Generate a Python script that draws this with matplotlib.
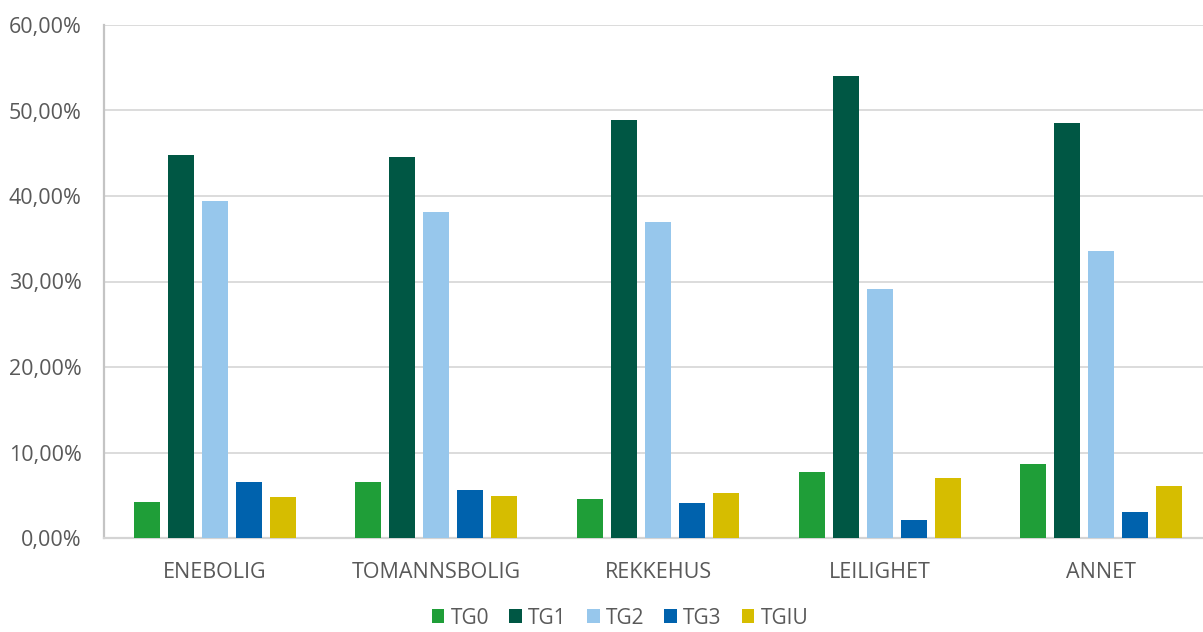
import matplotlib
matplotlib.use("Agg")
import matplotlib.pyplot as plt
import numpy as np
from matplotlib.ticker import FuncFormatter
from matplotlib.patches import Patch

categories = ["ENEBOLIG", "TOMANNSBOLIG", "REKKEHUS", "LEILIGHET", "ANNET"]
series_names = ["TG0", "TG1", "TG2", "TG3", "TGIU"]
tg0 = [4.2, 6.5, 4.6, 7.7, 8.6]
tg1 = [44.8, 44.6, 48.9, 54.0, 48.5]
tg2 = [39.4, 38.1, 37.0, 29.1, 33.6]
tg3 = [6.6, 5.6, 4.1, 2.1, 3.0]
tgiu = [4.75, 4.9, 5.3, 7.0, 6.1]
yticks = [0, 10, 20, 30, 40, 50, 60]

colors = ["#1f9e38", "#005744", "#97c7ec", "#0062ad", "#d6bd00"]
series = [tg0, tg1, tg2, tg3, tgiu]

plt.rcParams['font.family'] = ['Open Sans', 'DejaVu Sans']

W, H = 1203, 632
fig = plt.figure(figsize=(W/100, H/100), dpi=100)
left_px, right_px, top_px, bottom_px = 104, 1212, 25, 538
ax = fig.add_axes([left_px/W, (H-bottom_px)/H, (right_px-left_px)/W, (bottom_px-top_px)/H])

x = np.arange(len(categories))
step = 34/221.5
width = 26/221.5
for i, (vals, col, name) in enumerate(zip(series, colors, series_names)):
    ax.bar(x + (i - 2) * step, vals, width=width, color=col, label=name,
           zorder=3, edgecolor='none')

ax.set_xlim(-0.5, len(categories) - 0.5)
ax.set_ylim(0, 60)
ax.set_yticks(yticks)
ax.yaxis.set_major_formatter(FuncFormatter(lambda v, p: f"{v:.2f}%".replace('.', ',')))
ax.set_xticks(x)
ax.set_xticklabels(categories)
ax.tick_params(axis='both', length=0, labelsize=15.5, labelcolor='#595959')
ax.tick_params(axis='y', pad=16)
ax.tick_params(axis='x', pad=17)

ax.grid(axis='y', color='#d9d9d9', linewidth=1.3, zorder=0)
for s in ['top', 'right']:
    ax.spines[s].set_visible(False)
ax.spines['left'].set_color('#c4c4c4')
ax.spines['left'].set_linewidth(1.6)
ax.spines['bottom'].set_color('#d4d4d4')
ax.spines['bottom'].set_linewidth(1.6)

handles = [Patch(facecolor=c, edgecolor='none') for c in colors]
leg = fig.legend(handles, series_names, loc='center', bbox_to_anchor=(620/W, 1 - 618/H),
                 ncol=5, frameon=False, fontsize=15, handlelength=0.62, handleheight=0.62,
                 handletextpad=0.3, columnspacing=0.95, borderpad=0.0)
for t in leg.get_texts():
    t.set_color('#595959')

fig.savefig("out.png", dpi=100)
